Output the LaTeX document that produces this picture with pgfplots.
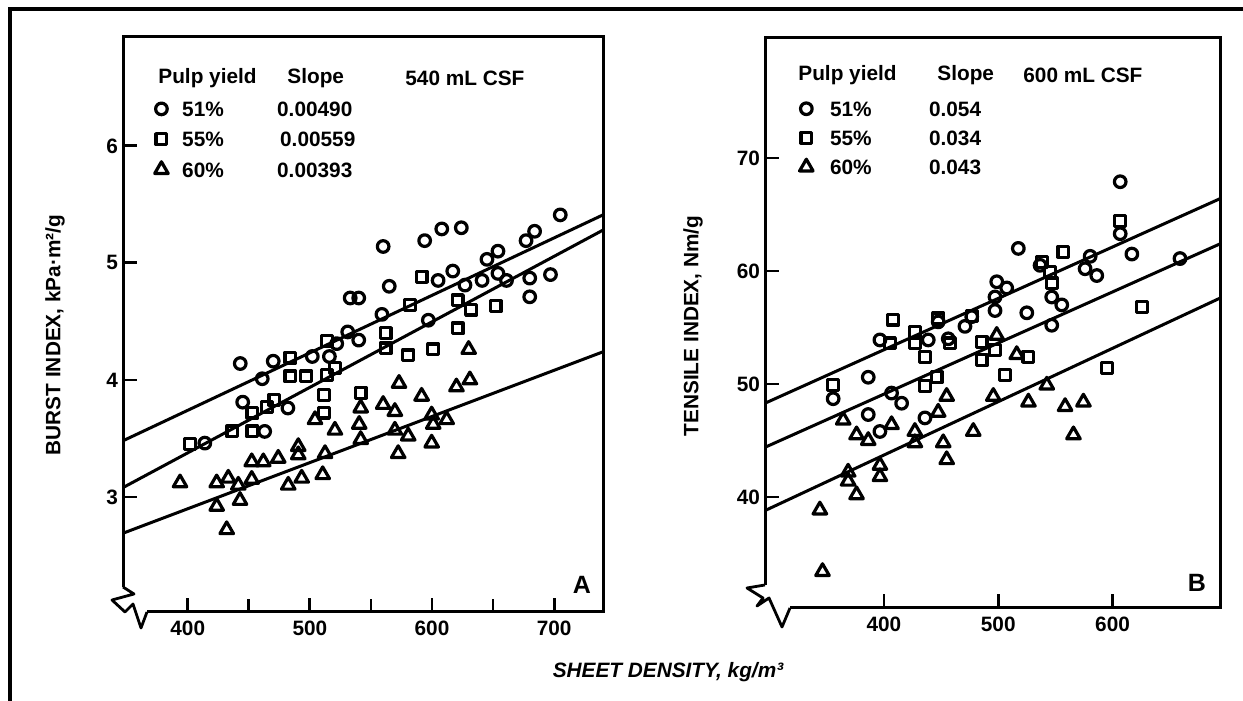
\documentclass[border=0pt]{standalone}
\usepackage{fontspec}
\setmainfont{Liberation Sans}
\usepackage{pgfplots}
\usepackage{pgfplotstable}
\pgfplotsset{compat=1.18}
\newcommand{\F}{\fontsize{10.4}{12}\selectfont\bfseries}

% ---- Panel A (burst index) ----
\pgfplotstableread{
x y
560 5.14
594 5.19
608 5.29
624 5.30
705 5.41
684 5.27
677 5.19
654 5.10
645 5.03
617 4.93
565 4.80
533 4.70
540 4.70
605 4.85
627 4.81
641 4.85
654 4.91
661 4.85
680 4.87
680 4.71
697 4.90
559 4.56
597 4.51
531 4.41
540 4.34
522 4.31
502 4.20
516 4.20
470 4.16
443 4.14
461 4.01
445 3.81
482 3.76
463 3.56
414 3.46
}\cA
\pgfplotstableread{
x y
591.5 4.88
621 4.68
632 4.60
652 4.63
621 4.44
582 4.64
562 4.40
562 4.27
580.5 4.21
601 4.26
514 4.33
520.5 4.10
514 4.04
484 4.19
484 4.03
497 4.03
511.5 3.87
511.5 3.72
541.6 3.89
471 3.83
465 3.77
453 3.72
453 3.56
436.5 3.56
402 3.45
}\sA
\pgfplotstableread{
x y
630 4.26
631 4.00
620 3.94
573 3.97
591.5 3.86
560 3.79
569.6 3.73
541.6 3.76
540.4 3.62
541.6 3.49
569.6 3.57
580.5 3.52
572.3 3.37
599.7 3.70
601 3.62
612 3.66
599.7 3.46
504.2 3.66
520.5 3.57
512.4 3.37
510.5 3.19
490.5 3.43
490.5 3.36
493.3 3.16
482.3 3.10
474.1 3.33
461.9 3.30
452.4 3.30
452.4 3.15
433.2 3.16
441.4 3.10
423.7 3.12
393.7 3.12
442.8 2.97
423.7 2.92
431.9 2.72
}\tA

% ---- Panel B (tensile index) ----
\pgfplotstableread{
x y
517.6 62.0
606.7 67.9
606.7 63.3
616.9 61.5
580.4 61.3
576 60.2
586.2 59.6
536.6 60.5
546.8 57.7
555.6 57.0
546.8 55.2
498.7 59.05
497.2 57.7
507.4 58.5
497.2 56.5
476.8 55.96
470.9 55.1
525 56.3
396.5 53.9
438.8 53.9
447.5 55.5
456.3 54.0
386.3 50.6
355.6 48.7
406.7 49.2
415.5 48.3
386.3 47.3
396.5 45.8
435.9 47.0
659 61.1
}\cB
\pgfplotstableread{
x y
557 61.7
538.1 60.8
545.4 59.9
546.8 58.9
606.7 64.4
625.7 56.8
595 51.4
526.4 52.4
506 50.8
485.5 53.7
485.5 52.1
497.2 53.0
476.8 56.0
447.5 55.8
457.8 53.6
427.1 54.6
427.1 53.6
435.9 52.4
405.3 53.6
408.1 55.7
355.6 49.9
435.9 49.8
446.1 50.6
}\sB
\pgfplotstableread{
x y
498.7 54.3
516.2 52.6
495.7 48.9
526.4 48.4
542.5 49.9
558.5 48.0
574.5 48.4
565.8 45.5
478.2 45.8
454.9 48.9
447.5 47.5
427.1 45.8
427.1 44.8
451.9 44.8
454.9 43.3
406.7 46.4
386.3 45.0
376.1 45.5
364.4 46.8
396.5 42.8
396.5 41.8
368.7 42.2
368.7 41.4
376.1 40.2
344 38.85
346.3 33.4
}\tB

\pgfplotsset{
  panel/.style={
    scale only axis, anchor=south west,
    axis line style={draw=none},
    tick pos=left, tick align=inside,
    major tick length=7pt, minor tick length=6.5pt,
    tick style={black, line width=1.4pt},
    tick label style={font=\F},
    /pgf/number format/assume math mode=true,
    xticklabel style={yshift=-1pt},
    yticklabel style={xshift=1pt},
    legend cell align=left,
    legend style={draw=none, fill=none, inner sep=0pt, outer sep=0pt,
      font=\F, row sep=7.6pt,
      nodes={inner sep=0pt, text height=7.5pt, text depth=0pt},
      /tikz/every odd column/.append style={column sep=7pt}},
  },
  reg/.style={black, line width=1.5pt, no markers},
  mk/.style={only marks, black, line width=1.6pt,
    mark options={fill=white, solid, line width=1.6pt, line join=round},
    legend image code/.code={\draw[##1] plot coordinates {(0pt,0pt)};}},
}

\begin{document}
\begin{tikzpicture}
\useasboundingbox (0pt,0pt) rectangle (621.5pt,350.5pt);
% outer frame
\draw[line width=2.2pt] (5pt,0pt) -- (5pt,346pt) -- (621.5pt,346pt);

% ---------- Panel A ----------
\begin{axis}[panel, at={(61.5pt,44.5pt)}, width=240pt, height=287.5pt,
  xmin=347, xmax=740, ymin=2.017, ymax=6.93,
  xtick={400,500,600,700}, minor x tick num=1,
  ytick={3,4,5,6},
  legend style={at={(axis description cs:0.066,0.888)}, anchor=north west}]
\addplot[reg, forget plot] coordinates {(347,3.48) (740,5.41)};
\addplot[reg, forget plot] coordinates {(347,3.08) (740,5.28)};
\addplot[reg, forget plot] coordinates {(347,2.69) (740,4.24)};
\addplot[mk, mark=o, mark size=2.9pt] table {\cA};
\addlegendentry{\makebox[47.5pt][l]{51\%}0.00490}
\addplot[mk, mark=square, mark size=2.7pt] table {\sA};
\addlegendentry{\makebox[49pt][l]{55\%}0.00559}
\addplot[mk, mark=triangle, mark size=3.9pt] table {\tA};
\addlegendentry{\makebox[47.5pt][l]{60\%}0.00393}
\end{axis}

% ---------- Panel B ----------
\begin{axis}[panel, at={(382.5pt,46.5pt)}, width=227.5pt, height=285pt,
  xmin=296, xmax=694, ymin=30.18, ymax=80.62,
  xtick={400,500,600}, ytick={40,50,60,70},
  legend style={at={(axis description cs:0.076,0.889)}, anchor=north west,
    row sep=7pt, /tikz/every odd column/.append style={column sep=8.5pt}}]
\addplot[reg, forget plot] coordinates {(296,48.3) (694,66.4)};
\addplot[reg, forget plot] coordinates {(296,44.4) (694,62.4)};
\addplot[reg, forget plot] coordinates {(296,38.8) (694,57.6)};
\addplot[mk, mark=o, mark size=2.9pt] table {\cB};
\addlegendentry{\makebox[49.5pt][l]{51\%}0.054}
\addplot[mk, mark=square, mark size=2.7pt] table {\sB};
\addlegendentry{\makebox[49.5pt][l]{55\%}0.034}
\addplot[mk, mark=triangle, mark size=3.9pt] table {\tB};
\addlegendentry{\makebox[49.5pt][l]{60\%}0.043}
\end{axis}

% panel frames with axis breaks
\draw[line width=1.5pt, line join=miter] (61.5pt,57pt) -- (61.5pt,332pt) -- (301.5pt,332pt) -- (301.5pt,44.5pt) -- (73.5pt,44.5pt);
\draw[line width=1.4pt, line join=round] (61.5pt,57pt) -- (67pt,53.5pt) -- (56pt,50.5pt) -- (62.5pt,44.5pt) -- (66.5pt,48.5pt) -- (70.5pt,36.5pt) -- (73.5pt,44.5pt);
\draw[line width=1.5pt, line join=miter] (382.5pt,58pt) -- (382.5pt,331.5pt) -- (610pt,331.5pt) -- (610pt,46.5pt) -- (395pt,46.5pt);
\draw[line width=1.4pt, line join=round] (382.5pt,58pt) -- (373.5pt,56.5pt) -- (381.5pt,51.5pt) -- (378.5pt,47.5pt) -- (384.5pt,51.5pt) -- (391pt,37pt) -- (395pt,46.5pt);

% legend headers
\begin{scope}[every node/.style={inner sep=0pt, anchor=west, font=\F}]
\node at (79pt,311.5pt) {Pulp yield};
\node at (143.5pt,311.5pt) {Slope};
\node at (202.5pt,311.5pt) {540 mL CSF};
\node at (399pt,313pt) {Pulp yield};
\node at (468.5pt,313pt) {Slope};
\node at (511.5pt,313pt) {600 mL CSF};
\end{scope}

% panel letters
\node[font=\fontsize{12.5}{14}\selectfont\bfseries] at (291pt,58pt) {A};
\node[font=\fontsize{12.5}{14}\selectfont\bfseries] at (598.5pt,59pt) {B};

% axis titles
\node[rotate=90, font=\F] at (27.5pt,183pt) {BURST INDEX, kPa·m²/g};
\node[rotate=90, font=\F] at (346.5pt,187.5pt) {TENSILE INDEX, Nm/g};
\node[font=\fontsize{10.4}{12}\selectfont\bfseries\itshape] at (334pt,14.5pt) {SHEET DENSITY, kg/m³};
\end{tikzpicture}
\end{document}
